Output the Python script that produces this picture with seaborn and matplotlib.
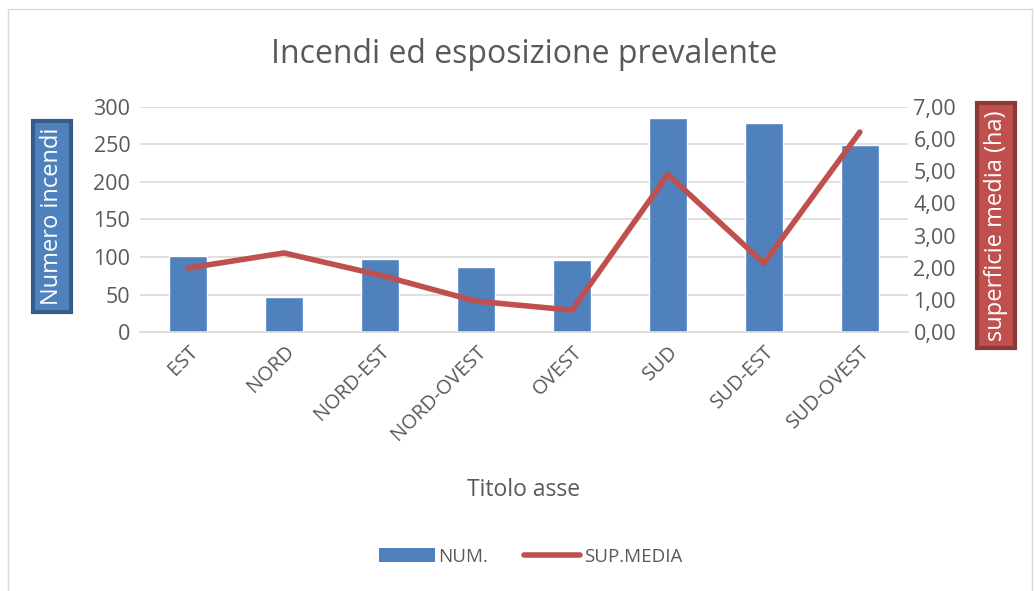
import matplotlib
matplotlib.use('Agg')
import matplotlib.pyplot as plt
import seaborn as sns
import pandas as pd
from matplotlib.patches import Rectangle, Patch
from matplotlib.lines import Line2D

categories = ['EST', 'NORD', 'NORD-EST', 'NORD-OVEST', 'OVEST', 'SUD', 'SUD-EST', 'SUD-OVEST']
num_incendi = [101, 47, 97, 87, 96, 285, 279, 249]
sup_media = [1.99, 2.46, 1.77, 0.96, 0.68, 4.90, 2.14, 6.22]
left_ticks = [0, 50, 100, 150, 200, 250, 300]
right_ticks = [0, 1, 2, 3, 4, 5, 6, 7]

sns.set_style('white')
plt.rcParams['font.family'] = ['Open Sans', 'DejaVu Sans']

blue = '#4F81BD'
red = '#C0504D'
grey = '#595959'

df = pd.DataFrame({'Esposizione': categories, 'NUM.': num_incendi, 'SUP.MEDIA': sup_media})

fig = plt.figure(figsize=(10.34, 5.91), dpi=100)
fig.patches.append(Rectangle((0.008, -0.01), 0.99, 0.995, transform=fig.transFigure,
                             fill=False, edgecolor='#D9D9D9', linewidth=1))

ax = fig.add_axes([0.1354, 0.4382, 0.7426, 0.3808])
sns.barplot(data=df, x='Esposizione', y='NUM.', color=blue, width=0.4, saturation=1, ax=ax)
ax.set_ylim(0, 300)
ax.set_yticks(left_ticks)
ax.set_yticklabels([str(t) for t in left_ticks], fontsize=15.5, color=grey)
ax.set_xlim(-0.5, len(categories) - 0.5)
ax.set_xticks(range(len(categories)))
ax.set_xticklabels(categories, rotation=45, ha='right', rotation_mode='anchor', fontsize=14.5, color=grey)
ax.tick_params(axis='both', length=0, pad=7)
ax.grid(axis='y', color='#D9D9D9', linewidth=1.2)
ax.set_axisbelow(True)
for s in ['top', 'right', 'left']:
    ax.spines[s].set_visible(False)
ax.spines['bottom'].set_color('#D9D9D9')
ax.spines['bottom'].set_linewidth(1.2)
ax.set_ylabel('')
ax.set_xlabel('Titolo asse', fontsize=16.5, color=grey, labelpad=24)

ax2 = ax.twinx()
sns.lineplot(data=df, x='Esposizione', y='SUP.MEDIA', color=red, linewidth=4, sort=False, ax=ax2,
             solid_capstyle='round')
ax2.set_ylim(0, 7)
ax2.set_yticks(right_ticks)
ax2.set_yticklabels([f'{t},00' for t in right_ticks], fontsize=15.5, color=grey)
ax2.tick_params(axis='y', length=0, pad=4)
for s in ['top', 'right', 'left', 'bottom']:
    ax2.spines[s].set_visible(False)
ax2.set_ylabel('')

fig.text(0.507, 0.908, 'Incendi ed esposizione prevalente', ha='center', va='center',
         fontsize=23, color=grey)

fig.text(0.050, 0.634, 'Numero incendi', rotation=90, ha='center', va='center', fontsize=17,
         color='white',
         bbox=dict(boxstyle='square,pad=0.3', facecolor=blue, edgecolor='#385D8A', linewidth=3))
fig.text(0.963, 0.618, 'superficie media (ha)', rotation=90, ha='center', va='center', fontsize=17,
         color='white',
         bbox=dict(boxstyle='square,pad=0.3', facecolor=red, edgecolor='#8C3836', linewidth=3))

handles = [Patch(facecolor=blue, edgecolor='none'),
           Line2D([0], [0], color=red, linewidth=4, solid_capstyle='round')]
fig.legend(handles, ['NUM.', 'SUP.MEDIA'], loc='center', bbox_to_anchor=(0.513, 0.058), ncol=2,
           frameon=False, fontsize=13.5, labelcolor=grey, handlelength=3.0, handleheight=0.8,
           columnspacing=1.9, handletextpad=0.2)

fig.savefig('out.png', dpi=100)
